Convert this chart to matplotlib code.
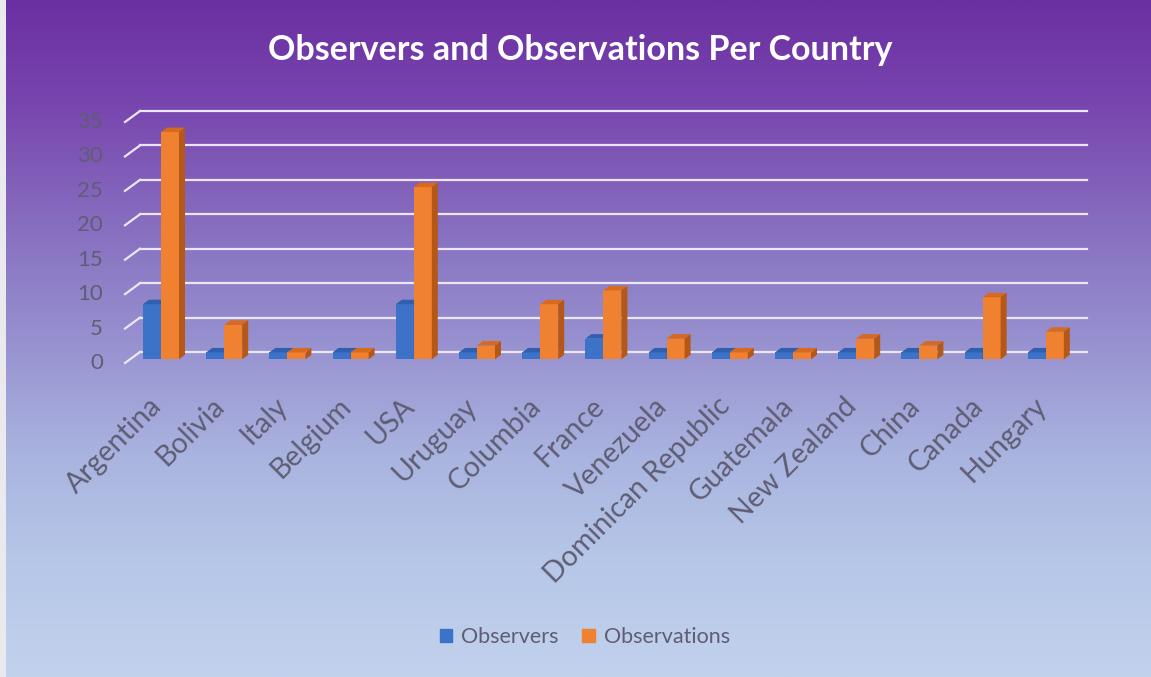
import numpy as np
import matplotlib.pyplot as plt
from matplotlib.colors import LinearSegmentedColormap
from matplotlib.patches import Patch

countries = ['Argentina', 'Bolivia', 'Italy', 'Belgium', 'USA', 'Uruguay', 'Columbia',
             'France', 'Venezuela', 'Dominican Republic', 'Guatemala', 'New Zealand',
             'China', 'Canada', 'Hungary']
observers = [8, 1, 1, 1, 8, 1, 1, 3, 1, 1, 1, 1, 1, 1, 1]
observations = [33, 5, 1, 1, 25, 2, 8, 10, 3, 1, 1, 3, 2, 9, 4]
y_ticks = [0, 5, 10, 15, 20, 25, 30, 35]

plt.rcParams['font.family'] = ['Lato', 'DejaVu Sans']

W_PX, H_PX = 1151, 677
fig = plt.figure(figsize=(W_PX / 100, H_PX / 100), dpi=100)

# gradient background
bg = fig.add_axes([0, 0, 1, 1], zorder=-5)
cmap = LinearSegmentedColormap.from_list('bg', [
    (0.00, '#6b2fa2'), (0.15, '#7845ae'), (0.37, '#8a76c3'),
    (0.53, '#9a96d2'), (0.67, '#a9b3df'), (0.82, '#b5c6e7'), (1.00, '#c2d2ed')])
grad = np.linspace(0, 1, 256).reshape(-1, 1)
bg.imshow(grad, aspect='auto', cmap=cmap, extent=[0, 1, 0, 1], origin='upper')
bg.set_xlim(0, 1)
bg.set_ylim(0, 1)
bg.axis('off')
bg.axvspan(0, 6 / W_PX, color='#e9e9ee', lw=0)

# pixel scales of the bar plane
PX_X = 63.2
PX_Y = 6.886
x0_px, y0_px = 161, 359.3
ax = fig.add_axes([(x0_px - 0.5 * PX_X) / W_PX, (H_PX - y0_px) / H_PX,
                   15 * PX_X / W_PX, 35 * PX_Y / H_PX])
ax.set_xlim(-0.5, 14.5)
ax.set_ylim(0, 35)
ax.axis('off')

def px_x(p):
    return p / PX_X

def px_y(p):
    return p / PX_Y

# gridlines (back wall + slanted floor edge)
back_x0 = px_x(140 - x0_px)
back_x1 = px_x(1087 - x0_px)
back_dy = px_y(7.3)
slant_dx, slant_dy = px_x(-15), px_y(-11)
grid_col = '#ece6f4'
for v in y_ticks:
    yb = v + back_dy
    ax.plot([back_x0, back_x1], [yb, yb], color=grid_col, lw=1.6, clip_on=False, zorder=1)
    ax.plot([back_x0 + slant_dx, back_x0], [yb + slant_dy, yb], color=grid_col,
            lw=1.6, clip_on=False, zorder=1)
    ax.text(px_x(103 - x0_px), yb + slant_dy, str(v), ha='right', va='center',
            fontsize=16, color='#5f5d73')

# 3D-ish bars
w = px_x(18)
dx, dy = px_x(6), px_y(4.5)
x = np.arange(len(countries))

def bar3d(xl, vals, front, top, side):
    ax.bar(xl, vals, width=w, align='edge', color=front, lw=0, zorder=3)
    for xi, v in zip(xl, vals):
        ax.fill([xi, xi + w, xi + w + dx, xi + dx], [v, v, v + dy, v + dy],
                color=top, lw=0, zorder=3, clip_on=False)
        ax.fill([xi + w, xi + w + dx, xi + w + dx, xi + w], [0, dy, v + dy, v],
                color=side, lw=0, zorder=3, clip_on=False)

for i in range(len(countries)):
    bar3d([x[i] - w], [observers[i]], '#3d72c9', '#2f5fae', '#2a5396')
    bar3d([x[i]], [observations[i]], '#f08130', '#d86a1f', '#b45717')

# category labels
for i, name in enumerate(countries):
    ax.text(i - 0.06, px_y(359.3 - 402), name, rotation=45, ha='right', va='center',
            rotation_mode='anchor', fontsize=20.5, color='#5f5d73', clip_on=False)

fig.text(0.504, 1 - 50 / H_PX, 'Observers and Observations Per Country', ha='center',
         va='center', fontsize=24.5, fontweight='bold', color='white')

handles = [Patch(color='#3d72c9', label='Observers'),
           Patch(color='#f08130', label='Observations')]
fig.legend(handles=handles, loc='center', bbox_to_anchor=(0.508, 1 - 637 / H_PX), ncol=2,
           frameon=False, fontsize=15.5, labelcolor='#5f5d73', handlelength=0.6,
           handleheight=0.6, handletextpad=0.4, columnspacing=1.1)

fig.savefig('out.png', dpi=100)
